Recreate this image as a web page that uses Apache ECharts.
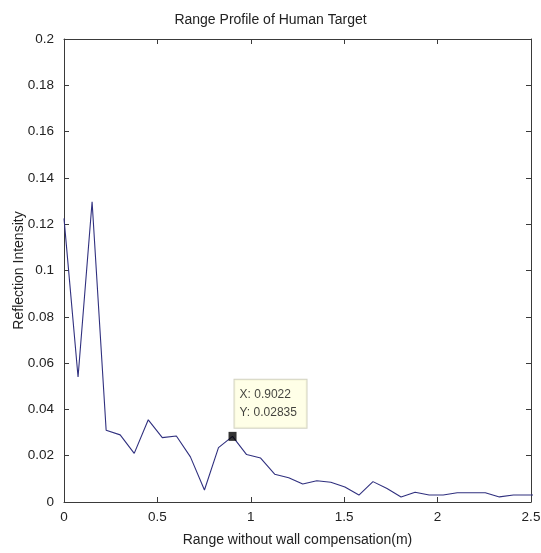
<!DOCTYPE html>
<html>
<head>
<meta charset="utf-8">
<script src="https://cdn.jsdelivr.net/npm/echarts@6/dist/echarts.min.js"></script>
<style>
  html, body { margin: 0; padding: 0; background: #fff; }
  #chart { width: 541px; height: 553px; }
</style>
</head>
<body>
<div id="chart"></div>
<script>
// range samples (m) and reflection intensity
var rangeM = [0, 0.0752, 0.1504, 0.2256, 0.3007, 0.3759, 0.4511, 0.5263, 0.6015, 0.6767,
  0.7518, 0.8270, 0.9022, 0.9774, 1.0526, 1.1277, 1.2029, 1.2781, 1.3533, 1.4285,
  1.5037, 1.5788, 1.6540, 1.7292, 1.8044, 1.8796, 1.9548, 2.0299, 2.1051, 2.1803,
  2.2555, 2.3307, 2.4059, 2.4810, 2.5562];
var intensity = [0.1225, 0.054, 0.1297, 0.031, 0.029, 0.021, 0.0355, 0.0278, 0.0285, 0.0195,
  0.0052, 0.0235, 0.02835, 0.0205, 0.019, 0.012, 0.0105, 0.0078, 0.0092, 0.0085,
  0.0065, 0.003, 0.0088, 0.0058, 0.0022, 0.0042, 0.003, 0.003, 0.004, 0.004,
  0.004, 0.0022, 0.003, 0.003, 0.003];
var tipX = [0.9022];
var tipY = [0.02835];

var font = "'Liberation Sans', Arial, sans-serif";
var axisColor = '#3a3a3a';

var lineData = rangeM.map(function (x, i) { return [x, intensity[i]]; });
var tipData = tipX.map(function (x, i) { return [x, tipY[i]]; });

function xAx(pos, labels) {
  return {
    type: 'value', position: pos, min: 0, max: 2.5, interval: 0.5,
    axisLine: { onZero: false, lineStyle: { color: axisColor, width: 1 } },
    axisTick: { show: true, inside: true, length: 5, lineStyle: { color: axisColor } },
    axisLabel: { show: labels, margin: 8, color: '#222', fontFamily: font, fontSize: 13.5 },
    splitLine: { show: false },
    name: labels ? 'Range without wall compensation(m)' : '',
    nameLocation: 'middle', nameGap: 31, nameMoveOverlap: false,
    nameTextStyle: { color: '#222', fontFamily: font, fontSize: 14 }
  };
}
function yAx(pos, labels) {
  return {
    type: 'value', position: pos, min: 0, max: 0.2, interval: 0.02,
    axisLine: { onZero: false, lineStyle: { color: axisColor, width: 1 } },
    axisTick: { show: true, inside: true, length: 5, lineStyle: { color: axisColor } },
    axisLabel: { show: labels, margin: 10, color: '#222', fontFamily: font, fontSize: 13.5 },
    splitLine: { show: false },
    name: labels ? 'Reflection Intensity' : '',
    nameLocation: 'middle', nameGap: 38, nameMoveOverlap: false,
    nameTextStyle: { color: '#222', fontFamily: font, fontSize: 14 }
  };
}

var chart = echarts.init(document.getElementById('chart'));
chart.setOption({
  backgroundColor: '#fff',
  animation: false,
  title: {
    text: 'Range Profile of Human Target',
    left: 'center', top: 8,
    textStyle: { color: '#222', fontFamily: font, fontSize: 14, fontWeight: 'normal' }
  },
  grid: { left: 64, right: 10, top: 39, bottom: 51, containLabel: false, outerBoundsMode: 'none' },
  xAxis: [xAx('bottom', true), xAx('top', false)],
  yAxis: [yAx('left', true), yAx('right', false)],
  series: [
    {
      type: 'line', data: lineData, showSymbol: false, clip: true,
      lineStyle: { color: '#30307f', width: 1.1 }
    },
    {
      type: 'scatter', data: tipData, symbol: 'rect', symbolSize: [8, 9],
      itemStyle: { color: '#000' }, z: 5,
      label: {
        show: true, position: [6, -52],
        formatter: function (p) { return 'X: ' + p.value[0] + '\nY: ' + p.value[1]; },
        backgroundColor: '#ffffe1', borderColor: '#c8c8b4', borderWidth: 1,
        padding: [6, 5, 6, 5], lineHeight: 18, width: 62,
        color: '#111', fontFamily: font, fontSize: 12
      }
    }
  ]
});
</script>
</body>
</html>
